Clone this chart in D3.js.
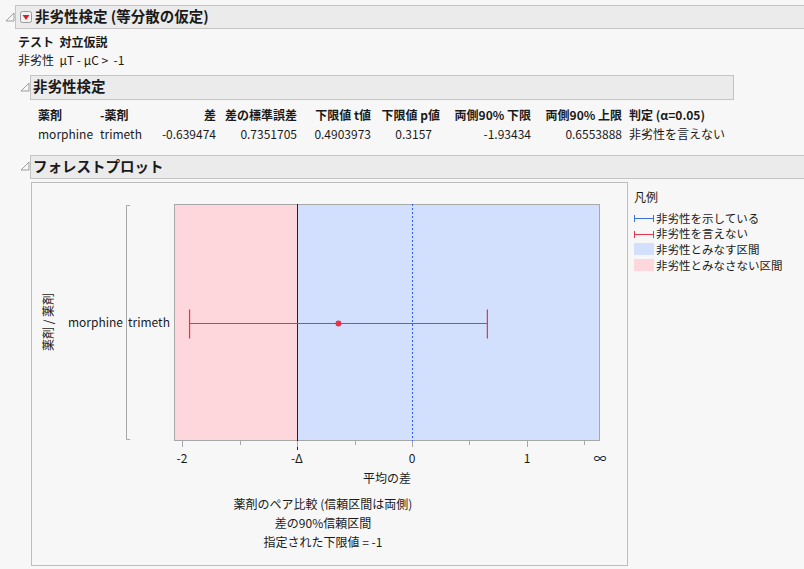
<!DOCTYPE html>
<html><head><meta charset="utf-8">
<script src="https://cdn.jsdelivr.net/npm/d3@7"></script>
<style>
body{margin:0;background:#f7f7f7;}
svg text{font-family:"Noto Sans CJK JP","Noto Sans",sans-serif;fill:#1a1a1a;white-space:pre;}
</style></head><body>
<svg id="c" width="804" height="569"></svg>
<script>
// ---- data ----
const tableHeaders = ["薬剤","-薬剤","差","差の標準誤差","下限値 t値","下限値 p値","両側90% 下限","両側90% 上限","判定 (α=0.05)"];
const tableRow = ["morphine","trimeth","-0.639474","0.7351705","0.4903973","0.3157","-1.93434","0.6553888","非劣性を言えない"];
const categories = ["morphine trimeth"];
const diffs = [-0.639474];
const lower90 = [-1.93434];
const upper90 = [0.6553888];
const margin = -1;
const tickValues = [-2, -1, 0, 1];
const tickLabels = ["-2", "-Δ", "0", "1"];
const minorTicks = [-1.5, -0.5, 0.5, 1.5];
const legendItems = ["非劣性を示している","非劣性を言えない","非劣性とみなす区間","非劣性とみなさない区間"];
const footnotes = ["薬剤のペア比較 (信頼区間は両側)","差の90%信頼区間","指定された下限値 = -1"];

const svg = d3.select("#c");
const RED = "#e8334a", BLUE = "#3a6fe0";

function header(x, y, w, h, triX, triY) {
  svg.append("rect").attr("x",x+0.5).attr("y",y+0.5).attr("width",w).attr("height",h)
    .attr("fill","#ebebeb").attr("stroke","#c4c4c4");
  svg.append("path").attr("d",`M${triX+7},${triY-4} L${triX+7},${triY+4} L${triX-1},${triY+4} Z`)
    .attr("fill","none").attr("stroke","#888").attr("stroke-width",0.8);
}
// header 1
header(15, 5, 789, 23, 7, 17);
svg.append("rect").attr("x",20.5).attr("y",11.5).attr("width",11).attr("height",11).attr("rx",2)
  .attr("fill","#f2f2f2").attr("stroke","#999");
svg.append("path").attr("d","M22.5,15 L29.5,15 L26,20 Z").attr("fill","#d0202a");
svg.append("text").attr("x",35).attr("y",22).attr("font-size",14.5).attr("font-weight","bold").text("非劣性検定 (等分散の仮定)");
svg.append("text").attr("x",18).attr("y",47).attr("font-size",12).attr("font-weight","bold").text("テスト  対立仮説");
svg.append("text").attr("x",18).attr("y",65).attr("font-size",12).text("非劣性  μT - μC >  -1");

// header 2
header(30, 75, 703, 24, 22, 87);
svg.append("text").attr("x",33).attr("y",92).attr("font-size",14.5).attr("font-weight","bold").text("非劣性検定");

// table
const colX = [38, 100, 216, 297, 371, 440, 531, 622, 629];
const colAnchor = ["start","start","end","end","end","end","end","end","start"];
const valX = [38, 100, 216, 297, 371, 432, 531, 622, 629];
tableHeaders.forEach((t,i)=>{
  svg.append("text").attr("x",colX[i]).attr("y",120).attr("font-size",12).attr("font-weight","bold")
    .attr("text-anchor",colAnchor[i]).text(t);
});
tableRow.forEach((t,i)=>{
  svg.append("text").attr("x",valX[i]).attr("y",139).attr("font-size",12)
    .attr("text-anchor",colAnchor[i]).text(t);
});

// header 3
header(30, 155, 774, 23, 22, 166);
svg.append("text").attr("x",33).attr("y",172).attr("font-size",14.5).attr("font-weight","bold").text("フォレストプロット");

// plot frame
svg.append("rect").attr("x",31.5).attr("y",182.5).attr("width",596).attr("height",383)
  .attr("fill","none").attr("stroke","#bdbdbd");

// plot area
const px0 = 174, px1 = 600, py0 = 204, py1 = 441;
const x = d3.scaleLinear().domain([-2.0696, 1.6348]).range([px0, px1]);
const y = d3.scaleBand().domain(categories).range([py0, py1]);

svg.append("rect").attr("x",px0).attr("y",py0).attr("width",x(margin)-px0).attr("height",py1-py0).attr("fill","#fdd7dc");
svg.append("rect").attr("x",x(margin)).attr("y",py0).attr("width",px1-x(margin)).attr("height",py1-py0).attr("fill","#d3e0fd");
svg.append("rect").attr("x",px0+0.5).attr("y",py0+0.5).attr("width",px1-px0-1).attr("height",py1-py0-1)
  .attr("fill","none").attr("stroke","#a8a8a8");
svg.append("line").attr("x1",Math.round(x(margin))+0.5).attr("x2",Math.round(x(margin))+0.5).attr("y1",py0).attr("y2",py1+9)
  .attr("stroke","#222").attr("stroke-width",1);
svg.append("line").attr("x1",Math.round(x(0))+0.5).attr("x2",Math.round(x(0))+0.5).attr("y1",py0).attr("y2",py1)
  .attr("stroke","#2962ff").attr("stroke-width",1).attr("stroke-dasharray","2,2");

// x axis
const ax = svg.append("g").attr("transform",`translate(0,${py1})`);
ax.selectAll(".maj").data(tickValues).enter().append("line")
  .attr("x1",d=>Math.round(x(d))+0.5).attr("x2",d=>Math.round(x(d))+0.5).attr("y1",0).attr("y2",6).attr("stroke","#a8a8a8");
ax.selectAll(".min").data(minorTicks).enter().append("line")
  .attr("x1",d=>Math.round(x(d))+0.5).attr("x2",d=>Math.round(x(d))+0.5).attr("y1",0).attr("y2",4).attr("stroke","#a8a8a8");
ax.selectAll(".lab").data(tickValues).enter().append("text")
  .attr("x",d=>x(d)).attr("y",22).attr("text-anchor","middle").attr("font-size",12).text((d,i)=>tickLabels[i]);
ax.append("text").attr("x",px1).attr("y",22).attr("text-anchor","middle").attr("font-size",13).text("∞");
svg.append("text").attr("x",(px0+px1)/2).attr("y",483).attr("text-anchor","middle").attr("font-size",12).text("平均の差");

// y bracket
svg.append("path").attr("d",`M130,${py0+1.5} L126.5,${py0+1.5} L126.5,${py1-1.5} L130,${py1-1.5}`)
  .attr("fill","none").attr("stroke","#a8a8a8");
svg.append("text").attr("transform",`translate(53,322) rotate(-90)`).attr("text-anchor","middle")
  .attr("font-size",12).text("薬剤 / 薬剤");
categories.forEach(c=>{
  const parts = c.split(" ");
  const cy = y(c)+y.bandwidth()/2;
  svg.append("text").attr("x",123).attr("y",cy+4).attr("text-anchor","end").attr("font-size",12).text(parts[0]);
  svg.append("text").attr("x",128).attr("y",cy+4).attr("text-anchor","start").attr("font-size",12).text(parts[1]);
});

// CI
categories.forEach((c,i)=>{
  const cy = Math.round(y(c)+y.bandwidth()/2)+0.5;
  const g = svg.append("g").attr("stroke",RED).attr("stroke-width",1.2);
  g.append("line").attr("x1",x(lower90[i])).attr("x2",x(upper90[i])).attr("y1",cy).attr("y2",cy);
  g.append("line").attr("x1",x(lower90[i])).attr("x2",x(lower90[i])).attr("y1",cy-14).attr("y2",cy+15);
  g.append("line").attr("x1",x(upper90[i])).attr("x2",x(upper90[i])).attr("y1",cy-14).attr("y2",cy+15);
  svg.append("circle").attr("cx",x(diffs[i])).attr("cy",cy).attr("r",3).attr("fill",RED);
});

// footnotes
footnotes.forEach((t,i)=>{
  svg.append("text").attr("x",323).attr("y",509+i*19).attr("text-anchor","middle").attr("font-size",12).text(t);
});

// legend
svg.append("text").attr("x",634).attr("y",202).attr("font-size",12).text("凡例");
const ly = [218, 233.7, 249.3, 265];
legendItems.forEach((t,i)=>{
  const yy = ly[i];
  if (i < 2) {
    const col = i===0 ? BLUE : RED;
    const g = svg.append("g").attr("stroke",col).attr("stroke-width",1);
    g.append("line").attr("x1",634).attr("x2",654).attr("y1",Math.round(yy)+0.5).attr("y2",Math.round(yy)+0.5);
    g.append("line").attr("x1",634.5).attr("x2",634.5).attr("y1",Math.round(yy)-3).attr("y2",Math.round(yy)+4);
    g.append("line").attr("x1",653.5).attr("x2",653.5).attr("y1",Math.round(yy)-3).attr("y2",Math.round(yy)+4);
  } else {
    svg.append("rect").attr("x",634).attr("y",Math.round(yy)-6).attr("width",20).attr("height",12)
      .attr("fill", i===2 ? "#d3e0fd" : "#fdd7dc");
  }
  svg.append("text").attr("x",656).attr("y",yy+4.5).attr("font-size",11.5).text(t);
});
</script>
</body></html>
